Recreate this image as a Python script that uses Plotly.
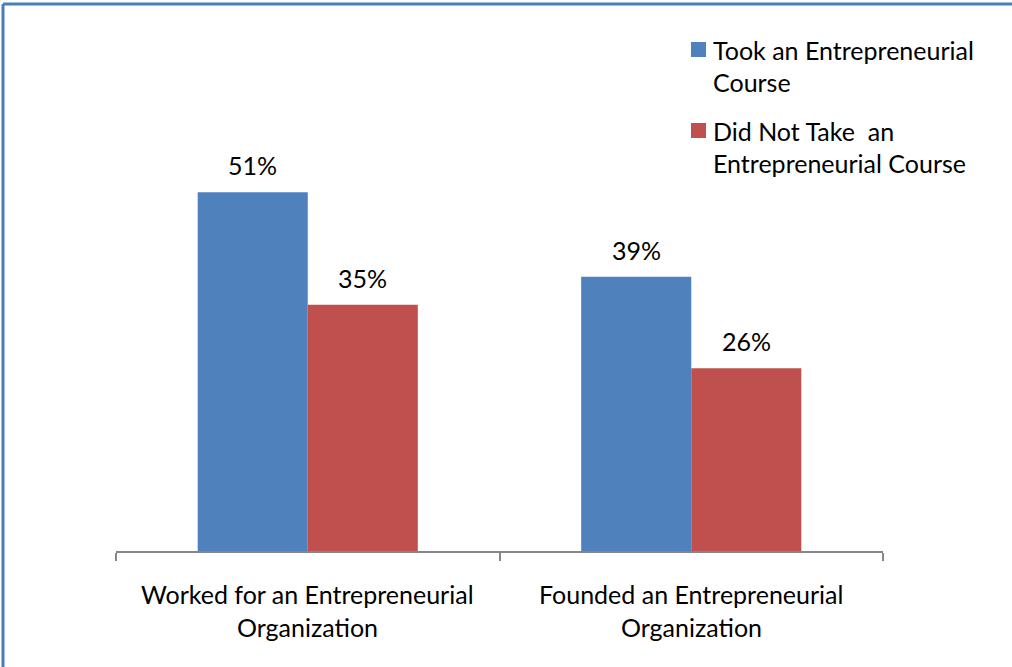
import plotly.graph_objects as go

# Data
categories = ["Worked for an Entrepreneurial<br>Organization",
              "Founded an Entrepreneurial<br>Organization"]
series_names = ["Took an Entrepreneurial<br>Course",
                "Did Not Take  an<br>Entrepreneurial Course"]
took_course = [0.51, 0.39]
no_course = [0.35, 0.26]
series_values = [took_course, no_course]
series_colors = ["#4F81BD", "#C0504D"]

FONT = "Lato"
FSIZE = 25
W, H = 1012, 667
# plot area in pixels
PX0, PX1 = 116, 883
PY_TOP, PY_BOT = 129, 551
BARGAP = 0.426


def px_x(px):
    return (px - PX0) / (PX1 - PX0)


def px_y(py):
    return (PY_BOT - py) / (PY_BOT - PY_TOP)


fig = go.Figure()
n = len(series_values)
bar_w = (1 - BARGAP) / n
for k, (name, vals, col) in enumerate(zip(series_names, series_values, series_colors)):
    fig.add_trace(go.Bar(
        x=list(range(len(categories))), y=vals, name=name,
        marker=dict(color=col, line=dict(width=0)),
        showlegend=False,
    ))

annotations = []
# value labels above bars
for k, vals in enumerate(series_values):
    off = (k - (n - 1) / 2) * bar_w
    for i, v in enumerate(vals):
        annotations.append(dict(
            x=i + off, y=v, xref="x", yref="y", text=f"{round(v * 100)}%",
            showarrow=False, yanchor="middle", xanchor="center", yshift=27,
            font=dict(family=FONT, size=FSIZE, color="#000000"),
        ))

# category labels, one annotation per line
CAT_LINE_Y = [594, 627]
for i, cat in enumerate(categories):
    for j, line in enumerate(cat.split("<br>")):
        annotations.append(dict(
            x=i, y=px_y(CAT_LINE_Y[j]), xref="x", yref="paper", text=line,
            showarrow=False, xanchor="center", yanchor="middle",
            font=dict(family=FONT, size=FSIZE, color="#000000"),
        ))

# legend: colour swatch + wrapped names
LEG_SWATCH_X = 691
LEG_TEXT_X = 711
LEG_FIRST_Y = [50, 131]
LEG_LINE_STEP = 32
shapes = []
for k, (name, col) in enumerate(zip(series_names, series_colors)):
    y0 = LEG_FIRST_Y[k]
    shapes.append(dict(
        type="rect", xref="paper", yref="paper",
        x0=px_x(LEG_SWATCH_X), x1=px_x(LEG_SWATCH_X + 15),
        y0=px_y(y0 - 8), y1=px_y(y0 + 7),
        fillcolor=col, line=dict(width=0),
    ))
    for j, line in enumerate(name.split("<br>")):
        annotations.append(dict(
            x=px_x(LEG_TEXT_X), y=px_y(y0 + j * LEG_LINE_STEP),
            xref="paper", yref="paper", text=line, showarrow=False,
            xanchor="left", yanchor="middle",
            font=dict(family=FONT, size=FSIZE, color="#000000"),
        ))

# outer frame (top and left edges)
BORDER = "#4A7EBB"
shapes.append(dict(type="line", xref="paper", yref="paper",
                   x0=px_x(3), x1=px_x(W + 5), y0=px_y(4), y1=px_y(4),
                   line=dict(color=BORDER, width=3)))
shapes.append(dict(type="line", xref="paper", yref="paper",
                   x0=px_x(3), x1=px_x(3), y0=px_y(4), y1=px_y(H + 5),
                   line=dict(color=BORDER, width=3)))

fig.update_layout(
    width=W, height=H,
    margin=dict(l=PX0, r=W - PX1, t=PY_TOP, b=H - PY_BOT),
    paper_bgcolor="white", plot_bgcolor="white",
    barmode="group", bargap=BARGAP, bargroupgap=0,
    font=dict(family=FONT, size=FSIZE, color="#000000"),
    xaxis=dict(
        range=[-0.5, len(categories) - 0.5],
        tickmode="array", tickvals=[-0.5 + i for i in range(len(categories) + 1)],
        showticklabels=False, ticks="outside", ticklen=8, tickwidth=2,
        tickcolor="#868686", showline=True, linecolor="#868686", linewidth=2,
        showgrid=False, zeroline=False, fixedrange=True,
    ),
    yaxis=dict(range=[0, 0.6], visible=False, fixedrange=True),
    annotations=annotations, shapes=shapes, showlegend=False,
)

fig.write_html("out.html", config={"displayModeBar": False})
